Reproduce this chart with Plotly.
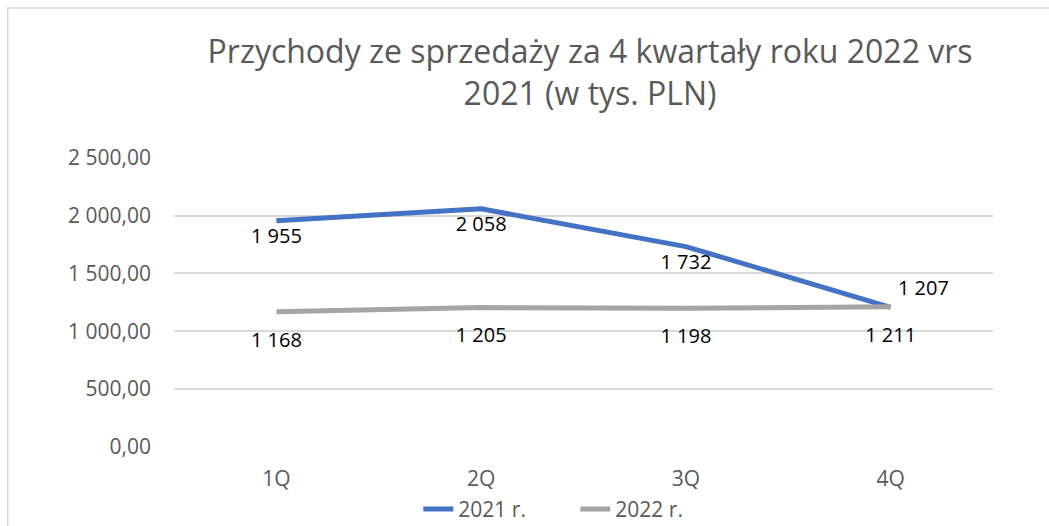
import plotly.graph_objects as go

quarters = ["1Q", "2Q", "3Q", "4Q"]
sales_2021 = [1955, 2058, 1732, 1207]
sales_2022 = [1168, 1205, 1198, 1211]
label_pos_2021 = ["bottom center", "bottom center", "bottom center", "top right"]
label_pos_2022 = ["bottom center", "bottom center", "bottom center", "bottom center"]

BLUE = "#4472C4"
GRAY = "#A5A5A5"
TEXT = "#595959"
FONT = "Open Sans"

fig = go.Figure()
# invisible markers only push the data labels away from the lines
fig.add_trace(go.Scatter(
    x=quarters, y=sales_2021, name="2021 r.", mode="lines+markers+text",
    line=dict(color=BLUE, width=5),
    marker=dict(size=10, color="rgba(0,0,0,0)"),
    texttemplate="%{y:,.0f}", textposition=label_pos_2021,
    textfont=dict(family=FONT, size=20, color="#000000"),
))
fig.add_trace(go.Scatter(
    x=quarters, y=sales_2022, name="2022 r.", mode="lines+markers+text",
    line=dict(color=GRAY, width=5),
    marker=dict(size=30, color="rgba(0,0,0,0)"),
    texttemplate="%{y:,.0f}", textposition=label_pos_2022,
    textfont=dict(family=FONT, size=20, color="#000000"),
))

# light frame around the chart area (cropped on the right and bottom)
fig.add_shape(type="rect", xref="paper", yref="paper",
              x0=-0.203, x1=1.5, y0=-1.0, y1=1.514,
              line=dict(color="#D9D9D9", width=1.5), layer="below")

fig.update_layout(
    width=1049, height=526,
    template="plotly_white",
    separators=", ",
    font=dict(family=FONT, color=TEXT),
    title=dict(
        text="Przychody ze sprzedaży za 4 kwartały roku 2022 vrs<br>2021 (w tys. PLN)",
        x=0.5625, xref="container", xanchor="center",
        y=0.88, yanchor="top",
        font=dict(family=FONT, size=32, color=TEXT),
    ),
    margin=dict(l=174, r=56, t=157, b=79, autoexpand=False),
    legend=dict(orientation="h", x=0.49, xanchor="center", y=-0.215, yanchor="middle",
                entrywidth=112, entrywidthmode="pixels",
                font=dict(family=FONT, size=21, color=TEXT)),
    plot_bgcolor="white", paper_bgcolor="white",
    showlegend=True,
)
fig.update_xaxes(
    range=[-0.5, 3.5], showgrid=False, showline=False, zeroline=False,
    tickfont=dict(family=FONT, size=21, color=TEXT), ticks="", ticklabelstandoff=17,
)
fig.update_yaxes(
    range=[0, 2506], tickvals=[0, 500, 1000, 1500, 2000, 2500], tickformat=",.2f",
    gridcolor="#D9D9D9", gridwidth=1.5, zeroline=False, showline=False,
    tickfont=dict(family=FONT, size=21, color=TEXT), ticks="", ticklabelstandoff=22,
)

fig.write_html("out.html", config={"displayModeBar": False},
               post_script="document.body.style.margin='0';")
